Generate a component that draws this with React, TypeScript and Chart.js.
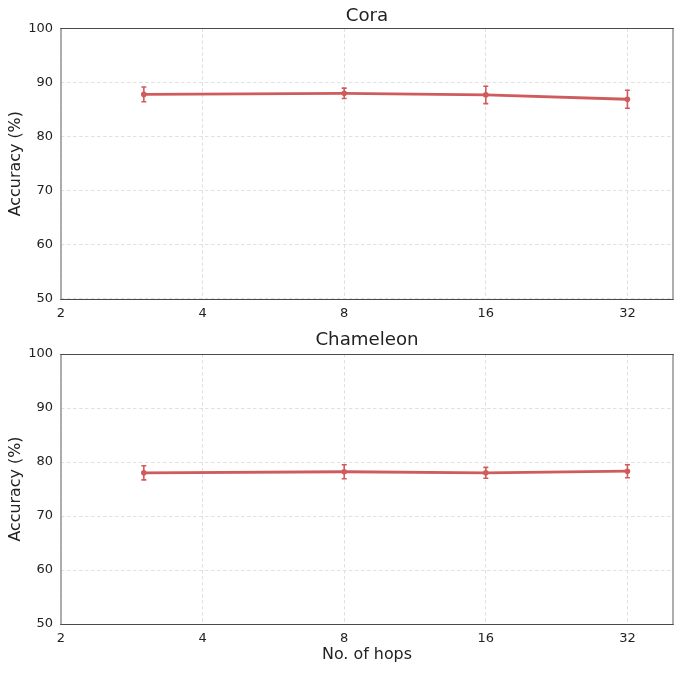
import React, { useEffect, useRef } from "react";
import { Chart, registerables } from "chart.js";

Chart.register(...registerables);

const hops = [3, 8, 16, 32];
const coraAcc = [87.8, 88.0, 87.7, 86.9];
const coraErr = [1.35, 0.95, 1.6, 1.65];
const chamAcc = [78.0, 78.2, 78.0, 78.3];
const chamErr = [1.3, 1.3, 1.0, 1.2];
const xTicks = [2, 4, 8, 16, 32];
const yTicks = [50, 60, 70, 80, 90, 100];

const FONT = "'DejaVu Sans', sans-serif";
const TEXT = "#222222";
const RED = "#d05b5d";

const errorBarPlugin = {
  id: "errorBars",
  afterDatasetsDraw(chart: any) {
    const ctx = chart.ctx;
    const ys = chart.scales.y;
    chart.data.datasets.forEach((ds: any, di: number) => {
      const meta = chart.getDatasetMeta(di);
      const errs: number[] = ds.errors || [];
      meta.data.forEach((pt: any, i: number) => {
        const v = ds.data[i].y;
        const e = errs[i] || 0;
        const x = pt.x;
        const y1 = ys.getPixelForValue(v - e);
        const y2 = ys.getPixelForValue(v + e);
        ctx.save();
        ctx.strokeStyle = RED;
        ctx.lineWidth = 1.6;
        ctx.beginPath();
        ctx.moveTo(x, y1);
        ctx.lineTo(x, y2);
        ctx.moveTo(x - 2.5, y1);
        ctx.lineTo(x + 2.5, y1);
        ctx.moveTo(x - 2.5, y2);
        ctx.lineTo(x + 2.5, y2);
        ctx.stroke();
        ctx.restore();
      });
    });
  },
};

const spinesPlugin = {
  id: "spines",
  beforeDatasetsDraw(chart: any) {
    const { ctx, chartArea } = chart;
    const { left, right, top, bottom } = chartArea;
    ctx.save();
    ctx.strokeStyle = "#9a9a9a";
    ctx.lineWidth = 1.6;
    ctx.beginPath();
    ctx.moveTo(left, top);
    ctx.lineTo(left, bottom);
    ctx.moveTo(right, top);
    ctx.lineTo(right, bottom);
    ctx.stroke();
    ctx.strokeStyle = "#4a4a4a";
    ctx.lineWidth = 1.2;
    ctx.beginPath();
    ctx.moveTo(left - 0.8, Math.round(top) + 0.5);
    ctx.lineTo(right + 0.8, Math.round(top) + 0.5);
    ctx.moveTo(left - 0.8, Math.round(bottom) + 0.5);
    ctx.lineTo(right + 0.8, Math.round(bottom) + 0.5);
    ctx.stroke();
    ctx.restore();
  },
};

type Cfg = {
  title: string;
  acc: number[];
  err: number[];
  height: number;
  xAxisHeight: number;
  showXTitle: boolean;
  titlePadTop: number;
  titlePadBottom: number;
};

function SubChart(props: Cfg) {
  const ref = useRef<HTMLCanvasElement>(null);
  useEffect(() => {
    if (!ref.current) return;
    const chart = new Chart(ref.current, {
      type: "line",
      data: {
        datasets: [
          {
            data: hops.map((x, i) => ({ x, y: props.acc[i] })),
            errors: props.err,
            borderColor: RED,
            backgroundColor: RED,
            borderWidth: 2.8,
            pointRadius: 2.8,
            pointBackgroundColor: RED,
            pointBorderWidth: 0,
            tension: 0,
          } as any,
        ],
      },
      options: {
        responsive: false,
        animation: false,
        devicePixelRatio: 1,
        layout: { padding: { left: 0, right: 8, top: 0, bottom: 0 } },
        plugins: {
          legend: { display: false },
          tooltip: { enabled: false },
          title: {
            display: true,
            fullSize: false,
            text: props.title,
            color: TEXT,
            font: { family: FONT, size: 18.2, weight: "normal", lineHeight: 1.2 },
            padding: { top: props.titlePadTop, bottom: props.titlePadBottom },
          },
        },
        scales: {
          x: {
            type: "logarithmic",
            min: 2,
            max: 40,
            afterBuildTicks: (scale: any) => {
              scale.ticks = xTicks.map((v) => ({ value: v }));
            },
            afterFit: (scale: any) => {
              scale.height = props.xAxisHeight;
            },
            ticks: {
              autoSkip: false,
              maxRotation: 0,
              padding: 6.5,
              color: TEXT,
              font: { family: FONT, size: 13 },
              callback: (v: any) => String(v),
            },
            grid: {
              color: "#dcdcdc",
              lineWidth: 0.9,
              drawTicks: false,
            },
            border: { display: false, dash: [3.5, 2.5] },
            title: {
              display: props.showXTitle,
              text: "No. of hops",
              color: TEXT,
              font: { family: FONT, size: 15.9, lineHeight: 1.2 },
              padding: { top: 0, bottom: 8.5 },
            },
          },
          y: {
            type: "linear",
            min: 50,
            max: 100,
            afterBuildTicks: (scale: any) => {
              scale.ticks = yTicks.map((v) => ({ value: v }));
            },
            afterFit: (scale: any) => {
              scale.width = 61;
            },
            ticks: {
              padding: 8,
              color: TEXT,
              font: { family: FONT, size: 13 },
              callback: (v: any) => String(v),
            },
            grid: {
              color: "#dcdcdc",
              lineWidth: 0.9,
              drawTicks: false,
            },
            border: { display: false, dash: [3.5, 2.5] },
            title: {
              display: true,
              text: "Accuracy (%)",
              color: TEXT,
              font: { family: FONT, size: 15.9, lineHeight: 1.2 },
              padding: { top: 6, bottom: 0 },
            },
          },
        },
      } as any,
      plugins: [spinesPlugin, errorBarPlugin],
    });
    return () => chart.destroy();
  }, []);
  return (
    <canvas
      ref={ref}
      width={681}
      height={props.height}
      style={{ display: "block", width: 681, height: props.height }}
    />
  );
}

export default function App() {
  return (
    <div
      style={{
        position: "absolute",
        left: 0,
        top: 0,
        width: 681,
        height: 673,
        background: "#ffffff",
      }}
    >
      <SubChart
        title="Cora"
        acc={coraAcc}
        err={coraErr}
        height={326}
        xAxisHeight={27}
        showXTitle={false}
        titlePadTop={5}
        titlePadBottom={1.5}
      />
      <SubChart
        title="Chameleon"
        acc={chamAcc}
        err={chamErr}
        height={347}
        xAxisHeight={49}
        showXTitle={true}
        titlePadTop={3.8}
        titlePadBottom={2.4}
      />
    </div>
  );
}
